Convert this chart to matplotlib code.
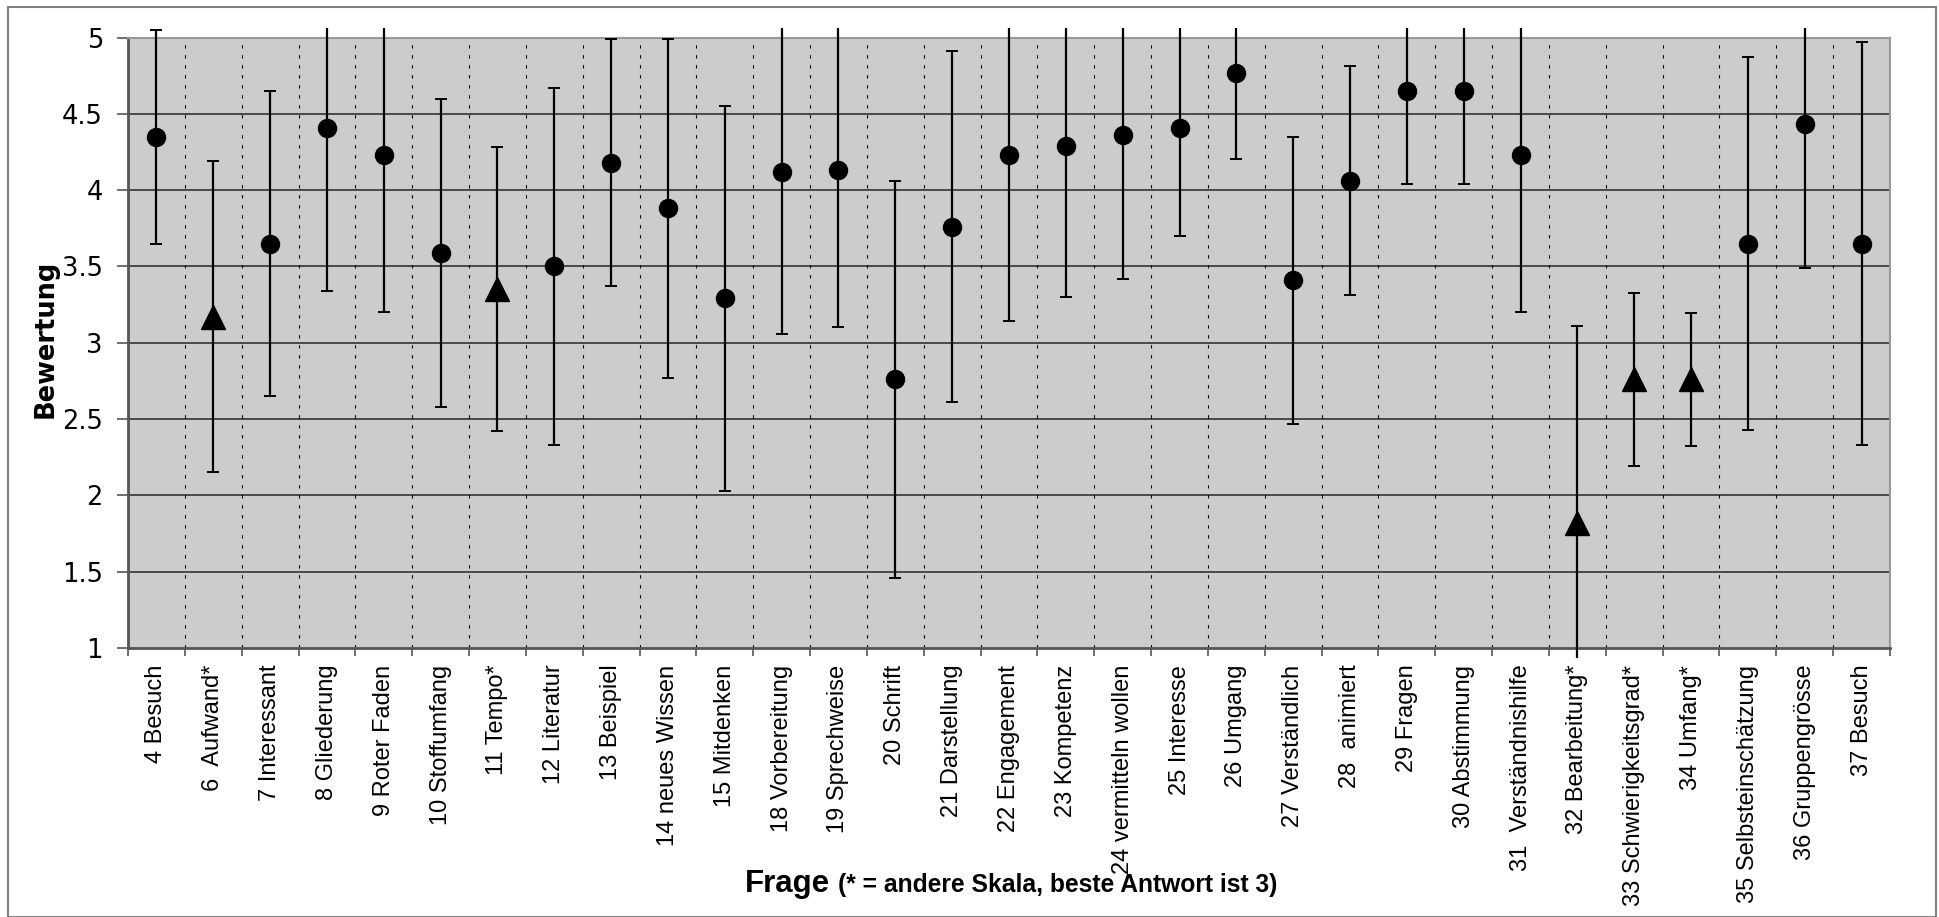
import numpy as np
import matplotlib
matplotlib.use('Agg')
import matplotlib.pyplot as plt
from matplotlib.patches import Rectangle
from matplotlib.transforms import Bbox, TransformedBbox

labels = ['4 Besuch', '6  Aufwand*', '7 Interessant', '8 Gliederung', '9 Roter Faden',
          '10 Stoffumfang', '11 Tempo*', '12 Literatur', '13 Beispiel', '14 neues Wissen',
          '15 Mitdenken', '18 Vorbereitung', '19 Sprechweise', '20 Schrift', '21 Darstellung',
          '22 Engagement', '23 Kompetenz', '24 vermitteln wollen', '25 Interesse', '26 Umgang',
          '27 Verständlich', '28  animiert', '29 Fragen', '30 Abstimmung', '31  Verständnishilfe',
          '32 Bearbeitung*', '33 Schwierigkeitsgrad*', '34 Umfang*', '35 Selbsteinschätzung',
          '36 Gruppengrösse', '37 Besuch']
means = [4.35, 3.17, 3.65, 4.41, 4.23, 3.59, 3.35, 3.50, 4.18, 3.88,
         3.29, 4.12, 4.13, 2.76, 3.76, 4.23, 4.29, 4.36, 4.41, 4.77,
         3.41, 4.06, 4.65, 4.65, 4.23, 1.82, 2.76, 2.76, 3.65, 4.43, 3.65]
errs = [0.70, 1.02, 1.00, 1.07, 1.03, 1.01, 0.93, 1.17, 0.81, 1.11,
        1.26, 1.06, 1.03, 1.30, 1.15, 1.09, 0.99, 0.94, 0.71, 0.565,
        0.94, 0.75, 0.61, 0.61, 1.03, 1.29, 0.565, 0.435, 1.22, 0.94, 1.32]

W, H = 1939, 917
fig = plt.figure(figsize=(W/100, H/100), dpi=100)
ax = fig.add_axes([128/W, 1-648/H, (1890-128)/W, (648-37.5)/H])
ax.set_facecolor('#cccccc')

x = np.arange(len(labels))
ax.set_xlim(-0.5, len(labels)-0.5)
ax.set_ylim(1, 5)

# error bars may stick out a little past the plot area, like in Excel
pad = 10/610.5
clipbox = TransformedBbox(Bbox([[0, -pad], [1, 1+pad]]), ax.transAxes)

for i in range(len(labels)):
    mk = '^' if labels[i].endswith('*') else 'o'
    ms = 17 if mk == '^' else 13
    eb = ax.errorbar(x[i], means[i], yerr=errs[i], fmt=mk, color='black', ms=ms,
                     elinewidth=1.6, capsize=4.5, capthick=1.4, zorder=5)
    for a in eb.lines[1]:
        a.set_clip_box(clipbox)
    for a in eb.lines[2]:
        a.set_clip_box(clipbox)

yt = np.arange(1, 5.01, 0.5)
ax.set_yticks(yt)
ax.set_yticklabels(['%g' % v for v in yt])
for v in yt[1:]:
    ax.axhline(v, color='#333333', lw=1.2, zorder=1)

ax.set_xticks(x)
ax.set_xticklabels(labels, rotation=90, va='top', fontsize=17,
                   family=['Liberation Sans', 'DejaVu Sans'])
ax.set_xticks(np.arange(-0.5, len(labels)), minor=True)
for b in np.arange(0.5, len(labels)-0.5):
    ax.axvline(b, color='black', lw=0.8, ls=(0, (3, 6)), zorder=1)

ax.tick_params(axis='x', which='major', length=0, pad=12)
ax.tick_params(axis='x', which='minor', length=6, width=1.2, color='#555555', direction='out')
ax.tick_params(axis='y', length=8, width=1.2, color='#555555', direction='out', pad=10, labelsize=18.5)

for s in ['left', 'bottom']:
    ax.spines[s].set_color('#555555')
    ax.spines[s].set_linewidth(2)
for s in ['top', 'right']:
    ax.spines[s].set_color('#999999')
    ax.spines[s].set_linewidth(1.5)

fig.text(45.5/W, 1-339/H, 'Bewertung', rotation=90, ha='center', va='center',
         fontsize=18.5, fontweight='bold')

narrow = ['Liberation Sans Narrow', 'Liberation Sans', 'DejaVu Sans']
fig.text(830/W, 1-892/H, 'Frage', ha='right', va='baseline', fontsize=22.5,
         fontweight='bold', family=narrow)
fig.text(838/W, 1-892/H, '(* = andere Skala, beste Antwort ist 3)', ha='left', va='baseline',
         fontsize=17.7, fontweight='bold', family=narrow)

fig.patches.append(Rectangle((8/W, 0.5/H), (1936-8)/W, 1-7/H-0.5/H, transform=fig.transFigure,
                             fill=False, edgecolor='#808080', lw=1.5))

fig.savefig('out.png', dpi=100)
